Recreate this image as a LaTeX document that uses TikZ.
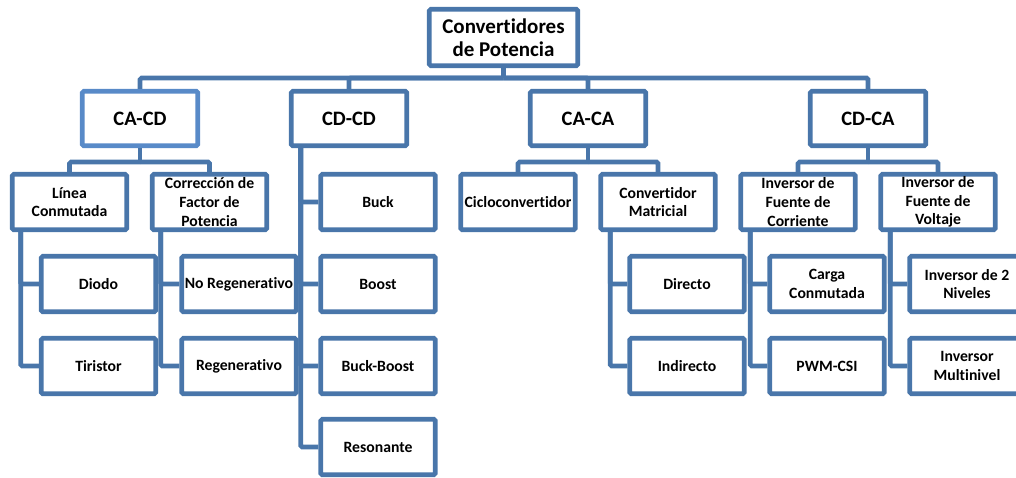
\documentclass[tikz,border=0pt]{standalone}
\usepackage{fontspec}
\setmainfont{Carlito}[RawFeature={-liga;-clig;-dlig}]
\begin{document}
\definecolor{lineblue}{RGB}{73,118,170}
\definecolor{lightblue}{RGB}{88,138,200}
\begin{tikzpicture}[x=1pt,y=-1pt,
  box/.style={draw=lineblue, line width=4.6pt, rounded corners=1.5pt, fill=white,
    align=center, inner sep=1pt, font=\bfseries\fontsize{15.7}{18.7}\selectfont},
  rootbox/.style={box, minimum width=148.5pt, minimum height=56.5pt,
    font=\bfseries\fontsize{21}{23}\selectfont},
  topbox/.style={box, minimum width=115.5pt, minimum height=54.5pt,
    font=\bfseries\fontsize{20.5}{23}\selectfont},
  leaf/.style={box, minimum width=114.5pt, minimum height=55.5pt},
  conn/.style={draw=lineblue, line width=4.6pt, rounded corners=1.5pt}]
\useasboundingbox (0,0) rectangle (1016,477);

% junction points of the connector buses
\coordinate (bus0) at (503.5,78);
\coordinate (busA) at (140,162);
\coordinate (busC) at (588,162);
\coordinate (busD) at (868,162);

% boxes
\node[rootbox] (root) at (503.5,37.5) {Convertidores\\de Potencia};

\node[topbox, draw=lightblue] (cacd) at (140,118.5) {CA-CD};
\node[topbox] (cdcd) at (349,118.5) {CD-CD};
\node[topbox] (caca) at (588,118.5) {CA-CA};
\node[topbox] (cdca) at (868,118.5) {CD-CA};

\node[leaf] (linea) at (69.5,202) {Línea\\Conmutada};
\node[leaf] (correc) at (209.5,202) {Corrección de\\Factor de\\Potencia};
\node[leaf] (buck) at (378,202) {Buck};
\node[leaf] (ciclo) at (518,202) {Cicloconvertidor};
\node[leaf] (matric) at (658,202) {Convertidor\\Matricial};
\node[leaf] (ifc) at (798,202) {Inversor de\\Fuente de\\Corriente};
\node[leaf] (ifv) at (938,202) {Inversor de\\Fuente de\\Voltaje};

\node[leaf] (diodo) at (98.5,284) {Diodo};
\node[leaf] (tiristor) at (98.5,366) {Tiristor};
\node[leaf] (noreg) at (239,284) {No Regenerativo};
\node[leaf] (reg) at (239,366) {Regenerativo};
\node[leaf] (boost) at (378,284) {Boost};
\node[leaf] (buckboost) at (378,366) {Buck-Boost};
\node[leaf] (reson) at (378,447) {Resonante};
\node[leaf] (directo) at (687,284) {Directo};
\node[leaf] (indirecto) at (687,366) {Indirecto};
\node[leaf] (carga) at (827,284) {Carga\\Conmutada};
\node[leaf] (pwm) at (827,366) {PWM-CSI};
\node[leaf] (inv2) at (967,284) {Inversor de 2\\Niveles};
\node[leaf] (multi) at (967,366) {Inversor\\Multinivel};

% top-level bus
\draw[conn] (root.south) -- (bus0);
\draw[conn] (cacd.north) |- (bus0);
\draw[conn] (cdcd.north) |- (bus0);
\draw[conn] (caca.north) |- (bus0);
\draw[conn] (cdca.north) |- (bus0);

% second-level buses
\draw[conn] (cacd.south) -- (busA);
\draw[conn] (linea.north) |- (busA);
\draw[conn] (correc.north) |- (busA);
\draw[conn] (caca.south) -- (busC);
\draw[conn] (ciclo.north) |- (busC);
\draw[conn] (matric.north) |- (busC);
\draw[conn] (cdca.south) -- (busD);
\draw[conn] (ifc.north) |- (busD);
\draw[conn] (ifv.north) |- (busD);

% side spines to the leaf boxes
\draw[conn] ([xshift=10.75pt]linea.south west) |- (diodo.west);
\draw[conn] ([xshift=10.75pt]linea.south west) |- (tiristor.west);
\draw[conn] ([xshift=10.75pt]correc.south west) |- (noreg.west);
\draw[conn] ([xshift=10.75pt]correc.south west) |- (reg.west);
\draw[conn] ([xshift=11.75pt]cdcd.south west) |- (buck.west);
\draw[conn] ([xshift=11.75pt]cdcd.south west) |- (boost.west);
\draw[conn] ([xshift=11.75pt]cdcd.south west) |- (buckboost.west);
\draw[conn] ([xshift=11.75pt]cdcd.south west) |- (reson.west);
\draw[conn] ([xshift=11.75pt]matric.south west) |- (directo.west);
\draw[conn] ([xshift=11.75pt]matric.south west) |- (indirecto.west);
\draw[conn] ([xshift=11.75pt]ifc.south west) |- (carga.west);
\draw[conn] ([xshift=11.75pt]ifc.south west) |- (pwm.west);
\draw[conn] ([xshift=11.75pt]ifv.south west) |- (inv2.west);
\draw[conn] ([xshift=11.75pt]ifv.south west) |- (multi.west);
\end{tikzpicture}
\end{document}
